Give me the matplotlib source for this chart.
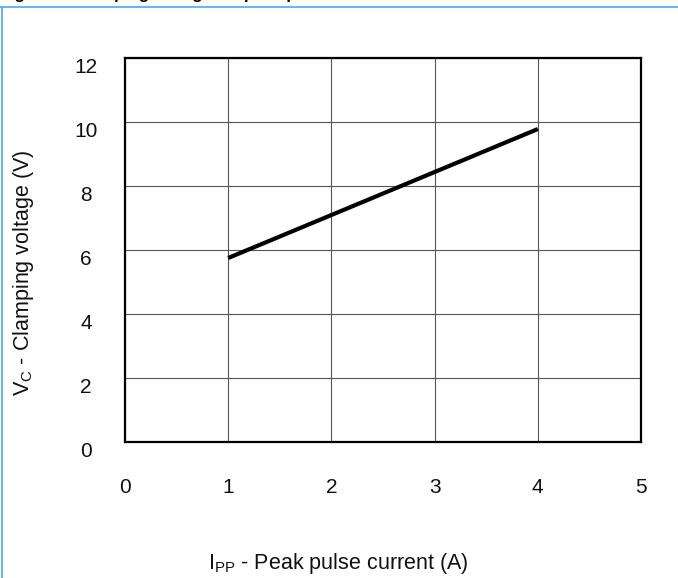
import matplotlib
matplotlib.use("Agg")
import matplotlib.pyplot as plt
from matplotlib.lines import Line2D

plt.rcParams['font.family'] = ['Liberation Sans', 'DejaVu Sans']
plt.rcParams['mathtext.fontset'] = 'custom'
plt.rcParams['mathtext.rm'] = 'Liberation Sans'

# data
ipp = [1, 4]            # peak pulse current (A)
vc = [5.75, 9.78]       # clamping voltage (V)
xticks = [0, 1, 2, 3, 4, 5]
yticks = [0, 2, 4, 6, 8, 10, 12]

fig = plt.figure(figsize=(6.78, 5.78), dpi=100)
ax = fig.add_axes([125/678, 136/578, 516/678, 384/578])

ax.plot(ipp, vc, color='black', linewidth=3, solid_capstyle='butt')

ax.set_xlim(0, 5)
ax.set_ylim(0, 12)
ax.set_xticks(xticks)
ax.set_yticks(yticks)
ax.grid(True, color='#555555', linewidth=0.8)
ax.tick_params(length=0, labelsize=15, labelcolor='#111111')
ax.tick_params(axis='x', pad=26)
ax.tick_params(axis='y', pad=28)
# y labels sit a little below their grid lines in the reference
plt.setp(ax.get_yticklabels(), ha='center', va='top')
for s in ax.spines.values():
    s.set_linewidth(1.6)
    s.set_color('black')

ax.set_xlabel(r'I$_\mathrm{PP}$ - Peak pulse current (A)', fontsize=15.5, color='#111111')
ax.xaxis.set_label_coords(0.413, -(563-442)/384)
ax.xaxis.label.set_va('center')
ax.set_ylabel(r'V$_\mathrm{C}$ - Clamping voltage (V)', fontsize=15.5, color='#111111')
ax.yaxis.set_label_coords(-0.196, 0.44)
ax.yaxis.label.set_va('center')

# caption cut off at the very top, as in the reference, and the blue page frame
fig.text(0.0, 1 + 0.5/578, 'Figure 6. Clamping voltage vs. peak pulse current',
         fontsize=12, fontweight='bold', va='baseline', ha='left')
fig.add_artist(Line2D([0, 1], [1 - 7/578, 1 - 7/578], color='#4aa8f0', linewidth=1.2))
fig.add_artist(Line2D([1.5/678, 1.5/678], [0, 1 - 7/578], color='#4aa8f0', linewidth=1.2))

fig.savefig('out.png', dpi=100)
